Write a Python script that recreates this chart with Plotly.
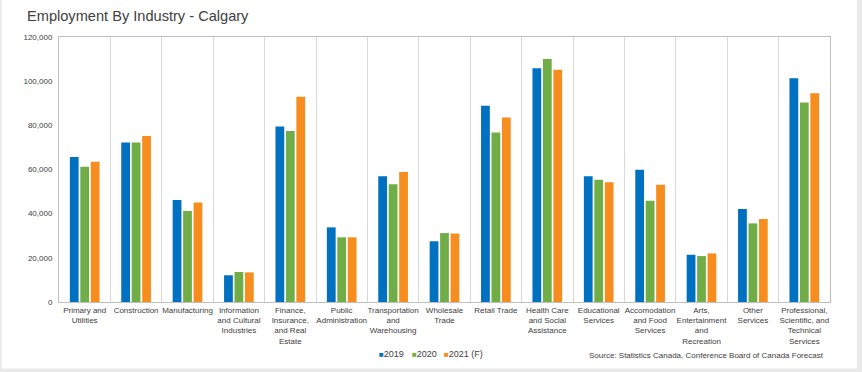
import plotly.graph_objects as go

categories = [
    "Primary and<br>Utilities", "Construction", "Manufacturing",
    "Information<br>and Cultural<br>Industries",
    "Finance,<br>Insurance,<br>and Real<br>Estate",
    "Public<br>Administration", "Transportation<br>and<br>Warehousing",
    "Wholesale<br>Trade", "Retail Trade",
    "Health Care<br>and Social<br>Assistance", "Educational<br>Services",
    "Accomodation<br>and Food<br>Services",
    "Arts,<br>Entertainment<br>and<br>Recreation", "Other<br>Services",
    "Professional,<br>Scientific, and<br>Technical<br>Services",
]
v2019 = [65700, 72200, 46200, 12100, 79500, 33800, 57000, 27500, 88900, 105800, 56900, 59900, 21400, 42100, 101300]
v2020 = [61300, 72200, 41200, 13600, 77400, 29300, 53300, 31200, 76700, 110000, 55400, 45900, 20800, 35600, 90300]
v2021 = [63500, 75200, 45100, 13400, 93000, 29300, 58900, 31000, 83500, 105200, 54200, 53100, 22000, 37600, 94500]
series_names = ["2019", "2020", "2021 (F)"]
colors = ["#0070c0", "#70ad47", "#f68d1e"]

W, H = 862, 372
L, R, T, B = 59, 32, 37, 70
pw, ph = W - L - R, H - T - B

def px_x(p):
    return (p - L) / pw

def px_y(p):
    return (H - B - p) / ph

fig = go.Figure()
for name, vals, c in zip(series_names, [v2019, v2020, v2021], colors):
    fig.add_trace(go.Bar(x=categories, y=vals, name=name, marker=dict(color=c, line=dict(width=0)),
                         showlegend=False))

legend_x = [377, 410, 442]
legend_ann = [
    dict(text=f"<span style='color:{c}; font-size:8px'>■</span>{n}", xref="paper", yref="paper",
         x=px_x(lx), xanchor="left", y=px_y(354), yanchor="middle", showarrow=False,
         font=dict(size=9, color="#404040"))
    for n, c, lx in zip(series_names, colors, legend_x)
]

font = "Liberation Sans, Arial, sans-serif"
fig.update_layout(
    width=W, height=H,
    margin=dict(l=L, r=R, t=T, b=B),
    paper_bgcolor="#e9e9e9",
    plot_bgcolor="white",
    barmode="group",
    bargap=0.39,
    bargroupgap=0.16,
    font=dict(family=font, size=8, color="#595959"),
    title=dict(text="Employment By Industry - Calgary", x=27 / W, xref="container", xanchor="left",
               y=1 - 16 / H, yref="container", yanchor="middle",
               font=dict(size=14.6, color="#404040", family=font)),
    showlegend=False,
    xaxis=dict(
        type="category", tickson="boundaries", showgrid=True, gridcolor="#d9d9d9", gridwidth=1,
        showline=True, linecolor="#bfbfbf", linewidth=1, mirror=True, ticks="",
        tickfont=dict(size=8, color="#404040"), tickangle=0,
    ),
    yaxis=dict(
        range=[0, 120000], dtick=20000, tickformat=",", showgrid=False, zeroline=False,
        showline=True, linecolor="#bfbfbf", linewidth=1, mirror=True, ticks="",
        tickfont=dict(size=8, color="#404040"), ticklabelstandoff=4,
    ),
    shapes=[
        dict(type="rect", xref="paper", yref="paper", x0=px_x(1.5), x1=px_x(857), y0=px_y(-1), y1=px_y(368.5),
             fillcolor="white", line=dict(width=0), layer="below"),
    ],
    annotations=legend_ann + [
        dict(text="Source: Statistics Canada, Conference Board of Canada Forecast", xref="paper", yref="paper",
             x=px_x(826), xanchor="right", y=px_y(355), yanchor="middle", showarrow=False,
             font=dict(size=8, color="#404040")),
    ],
)
fig.write_html("out.html", config={"displayModeBar": False},
               post_script="document.body.style.margin='0';")
